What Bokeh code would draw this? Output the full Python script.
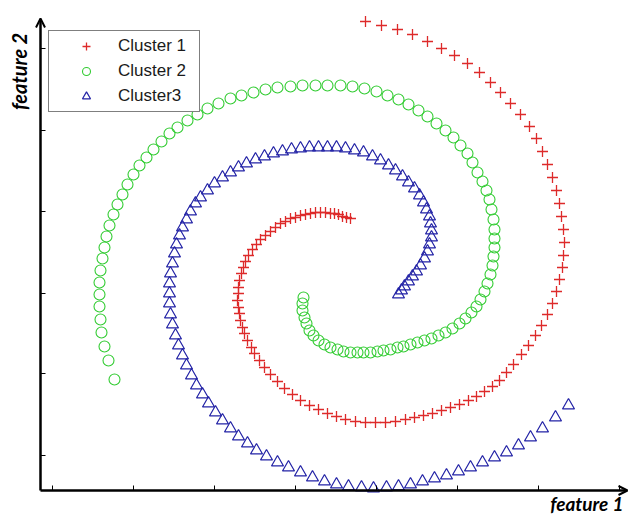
import math
from bokeh.plotting import figure
from bokeh.models import Range1d, FixedTicker, CustomJSTickFormatter, Arrow, OpenHead, Label
from bokeh.embed import file_html
from bokeh.resources import INLINE

cluster1_x = [310, 306, 302, 298, 294, 290, 285, 280, 275, 270,
              265, 260, 255, 250, 245, 240, 235, 230, 225, 220,
              216, 212, 208, 205, 203, 201, 199, 198, 198, 197,
              198, 199, 200, 202, 204, 207, 211, 214, 219, 224,
              230, 237, 244, 252, 260, 269, 278, 287, 296, 305,
              315, 325, 335, 345, 355, 365, 374, 383, 392, 401,
              410, 419, 428, 436, 444, 452, 459, 466, 473, 481,
              488, 495, 501, 507, 512, 516, 519, 522, 523, 524,
              523, 521, 519, 516, 512, 507, 502, 496, 489, 480,
              470, 460, 450, 439, 427, 414, 401, 387, 372, 357,
              341, 325]
cluster1_y = [272, 273, 274, 276, 277, 277, 278, 278, 278, 277,
              276, 275, 273, 272, 269, 267, 263, 259, 255, 251,
              246, 241, 235, 229, 223, 217, 210, 203, 197, 190,
              183, 177, 170, 163, 157, 150, 143, 137, 130, 123,
              116, 109, 102, 96, 90, 85, 81, 77, 74, 71,
              69, 68, 68, 68, 69, 71, 73, 75, 77, 80,
              83, 86, 90, 94, 99, 104, 110, 118, 126, 136,
              145, 155, 165, 176, 187, 199, 211, 223, 235, 248,
              261, 274, 287, 300, 313, 326, 339, 352, 364, 376,
              387, 398, 408, 418, 427, 435, 442, 449, 456, 461,
              465, 469]

cluster2_x = [263, 262, 262, 264, 266, 269, 273, 278, 284, 290,
              297, 303, 310, 317, 323, 330, 337, 343, 350, 357,
              363, 370, 377, 384, 391, 398, 405, 412, 419, 425,
              431, 436, 440, 444, 447, 450, 452, 453, 454, 454,
              454, 453, 451, 449, 446, 442, 437, 432, 427, 420,
              413, 405, 396, 387, 378, 368, 358, 347, 336, 324,
              312, 300, 287, 275, 262, 250, 237, 225, 213, 201,
              190, 178, 167, 157, 147, 137, 129, 121, 113, 106,
              99, 93, 87, 82, 77, 73, 69, 66, 64, 62,
              60, 59, 59, 59, 60, 61, 64, 68, 74]
cluster2_y = [193, 187, 180, 173, 167, 160, 155, 150, 146, 143,
              141, 139, 138, 138, 138, 138, 139, 140, 141, 143,
              144, 146, 148, 150, 152, 155, 158, 162, 167, 172,
              178, 184, 191, 199, 207, 216, 225, 234, 243, 252,
              261, 271, 281, 291, 300, 309, 318, 328, 337, 345,
              353, 360, 367, 374, 380, 386, 391, 395, 399, 402,
              404, 405, 405, 405, 405, 404, 403, 401, 398, 395,
              392, 387, 382, 376, 370, 363, 357, 349, 341, 333,
              325, 316, 306, 296, 286, 276, 265, 254, 243, 232,
              220, 208, 196, 184, 171, 158, 144, 130, 111]

cluster3_x = [358, 361, 364, 368, 372, 376, 380, 384, 387, 389,
              391, 391, 390, 389, 386, 383, 379, 374, 368, 362,
              355, 348, 340, 332, 323, 314, 305, 296, 287, 278,
              269, 260, 251, 242, 233, 224, 215, 206, 198, 190,
              182, 174, 167, 160, 155, 150, 146, 142, 139, 136,
              134, 132, 130, 129, 129, 129, 130, 132, 135, 138,
              142, 146, 151, 156, 162, 168, 175, 182, 190, 198,
              207, 216, 226, 237, 248, 260, 272, 284, 296, 308,
              321, 333, 346, 358, 370, 382, 394, 406, 418, 430,
              442, 454, 466, 478, 490, 502, 515, 528]
cluster3_y = [196, 200, 204, 209, 214, 219, 225, 232, 239, 246,
              253, 260, 267, 274, 281, 288, 295, 302, 308, 314,
              320, 325, 330, 334, 338, 340, 342, 343, 343, 343,
              343, 342, 341, 339, 337, 334, 331, 327, 323, 318,
              313, 307, 300, 293, 287, 279, 271, 263, 255, 246,
              237, 227, 217, 207, 197, 187, 176, 166, 155, 145,
              135, 125, 115, 105, 96, 87, 78, 70, 62, 54,
              47, 40, 34, 28, 23, 18, 13, 9, 6, 4,
              3, 2, 3, 4, 6, 9, 12, 15, 19, 23,
              28, 33, 38, 45, 53, 62, 73, 85]

x_ticks = [12, 93, 174, 255, 336, 417, 498, 579]
y_ticks = [35, 117, 197, 279, 360, 442]

RED = "#dd2a2a"
GREEN = "#33cc33"
BLUE = "#2323a6"

p = figure(width=628, height=514, output_backend="svg", toolbar_location=None,
           x_axis_location="above",
           x_range=Range1d(-40, 588), y_range=Range1d(-24, 490),
           min_border_left=0, min_border_right=0, min_border_top=0, min_border_bottom=0)
p.grid.visible = False
p.outline_line_color = None
p.background_fill_color = "white"
p.border_fill_color = "white"

for ax, ticks in ((p.xaxis[0], x_ticks), (p.yaxis[0], y_ticks)):
    ax.fixed_location = 0
    ax.ticker = FixedTicker(ticks=ticks, minor_ticks=[])
    ax.formatter = CustomJSTickFormatter(code="return ''")
    ax.minor_tick_line_color = None
    ax.axis_line_color = None
    ax.major_tick_line_color = "black"
    ax.major_tick_line_width = 1
    ax.major_label_standoff = 0
    ax.major_label_text_font_size = "1px"

# x axis sits in the upper panel but is drawn at y = 0; its "out" ticks point up
p.xaxis[0].major_tick_in = 0
p.xaxis[0].major_tick_out = 5
p.yaxis[0].major_tick_in = 5
p.yaxis[0].major_tick_out = 0

p.scatter(cluster1_x, cluster1_y, marker="cross", size=11, line_color=RED,
          line_width=1.3, legend_label="Cluster 1")
p.scatter(cluster2_x, cluster2_y, marker="circle", size=11, fill_color=None,
          line_color=GREEN, line_width=1.1, legend_label="Cluster 2")
p.scatter(cluster3_x, cluster3_y, marker="triangle", size=12, fill_color=None,
          line_color=BLUE, line_width=1.2, legend_label="Cluster3")

p.add_layout(Arrow(end=OpenHead(size=9, line_width=2, line_color="black"),
                   x_start=0, y_start=0, x_end=0, y_end=472,
                   line_width=2.5, line_color="black"))
p.add_layout(Arrow(end=OpenHead(size=9, line_width=2, line_color="black"),
                   x_start=0, y_start=0, x_end=587, y_end=0,
                   line_width=2.5, line_color="black"))

p.add_layout(Label(x=-22, y=419, text="feature 2", angle=math.pi / 2,
                   text_align="center", text_baseline="middle",
                   text_font="Lato", text_font_size="20px",
                   text_font_style="bold italic", text_color="black"))
p.add_layout(Label(x=583, y=-13, text="feature 1",
                   text_align="right", text_baseline="middle",
                   text_font="Lato", text_font_size="19px",
                   text_font_style="bold italic", text_color="black"))

lg = p.legend[0]
lg.location = (48, 402)
lg.margin = 0
lg.padding = 5
lg.spacing = 5
lg.glyph_width = 64
lg.glyph_height = 20
lg.label_height = 20
lg.label_width = 76
lg.label_standoff = 0
lg.label_text_font = "Liberation Sans"
lg.label_text_font_size = "17px"
lg.label_text_color = "#1a1a1a"
lg.border_line_color = "black"
lg.border_line_width = 1
lg.background_fill_color = "white"
lg.background_fill_alpha = 1

open("out.html", "w").write(file_html(p, INLINE))
